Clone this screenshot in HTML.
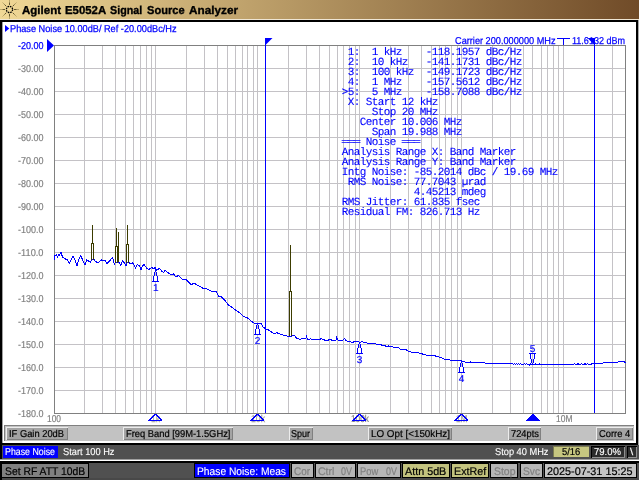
<!DOCTYPE html>
<html><head><meta charset="utf-8"><title>Agilent E5052A Signal Source Analyzer</title>
<style>
html,body{margin:0;padding:0;}
body{width:640px;height:480px;overflow:hidden;background:#fff;position:relative;font-family:"Liberation Sans",sans-serif;}
.b{position:absolute;}
.t{position:absolute;white-space:pre;transform-origin:0 0;text-rendering:geometricPrecision;-webkit-text-stroke:0.25px currentColor;}
</style></head><body>
<div class=b style='left:0px;top:0px;width:640px;height:19px;background:linear-gradient(to right,#f0d896 0%,#704b28 100%);'></div>
<div class=b style='left:0px;top:19px;width:640px;height:1px;background:#efe6d4;'></div>
<div class=b style='left:0px;top:20px;width:640px;height:2px;background:#000;'></div>
<div class=b style='left:0px;top:22px;width:2px;height:458px;background:#000;'></div>
<div class=b style='left:2px;top:22px;width:1px;height:421px;background:#a0a0a0;'></div>
<div class=b style='left:636px;top:22px;width:2px;height:423px;background:#000;'></div>
<div class=b style='left:638px;top:20px;width:1px;height:425px;background:#a8a8a8;'></div>
<svg width="640" height="480" viewBox="0 0 640 480" style="position:absolute;left:0;top:0"><rect x="54" y="45" width="572" height="369" fill="#fff"/>
<path d="M54 68.5H626M54 91.5H626M54 114.5H626M54 137.5H626M54 160.5H626M54 183.5H626M54 206.5H626M54 229.5H626M54 252.5H626M54 275.5H626M54 298.5H626M54 321.5H626M54 344.5H626M54 367.5H626M54 390.5H626M84.5 45V414M102.5 45V414M115.5 45V414M125.5 45V414M133.5 45V414M140.5 45V414M146.5 45V414M151.5 45V414M155.5 45V414M186.5 45V414M204.5 45V414M217.5 45V414M227.5 45V414M235.5 45V414M242.5 45V414M247.5 45V414M253.5 45V414M257.5 45V414M288.5 45V414M306.5 45V414M319.5 45V414M329.5 45V414M337.5 45V414M343.5 45V414M349.5 45V414M355.5 45V414M359.5 45V414M390.5 45V414M408.5 45V414M421.5 45V414M431.5 45V414M439.5 45V414M445.5 45V414M451.5 45V414M457.5 45V414M461.5 45V414M492.5 45V414M510.5 45V414M523.5 45V414M532.5 45V414M541.5 45V414M547.5 45V414M553.5 45V414M558.5 45V414M563.5 45V414M594.5 45V414M612.5 45V414" stroke="#c4c2c6" stroke-width="1" fill="none" shape-rendering="crispEdges"/>
<path d="M54.5 414V45.5H626" stroke="#808080" fill="none" shape-rendering="crispEdges"/>
<path d="M54 413.5H625.5V45" stroke="#808080" fill="none" shape-rendering="crispEdges"/>
<path d="M54.5 260.0 L54.5 256.0 L56.5 255.0 L57.5 257.0 L58.5 254.4 L59.5 255.0 L61.0 252.5 L62.5 257.0 L65.5 259.0 L67.5 260.0 L69.5 263.7 L70.5 261.0 L73.0 256.2 L75.0 260.0 L77.0 266.2 L78.5 260.0 L81.0 255.6 L82.5 260.0 L85.0 265.0 L86.5 260.0 L88.5 261.0 L90.5 262.0 L91.5 260.0 L93.5 259.0 L95.0 261.0 L96.5 262.0 L98.5 263.0 L100.0 261.0 L101.5 260.0 L103.5 261.0 L105.0 260.0 L107.0 263.7 L109.5 261.0 L112.5 257.5 L114.5 264.4 L115.5 262.0 L119.5 262.0 L120.5 266.0 L122.5 261.0 L124.5 263.0 L126.0 265.6 L126.5 263.0 L128.5 262.0 L130.5 263.7 L132.5 262.5 L135.5 268.0 L137.5 264.4 L139.5 266.0 L141.0 270.0 L142.5 266.0 L144.0 264.4 L146.5 268.0 L149.0 269.4 L151.5 267.5 L153.5 268.5 L155.5 267.5 L156.5 270.6 L158.5 269.0 L160.0 268.7 L161.5 271.0 L163.5 272.5 L165.0 270.4 L167.5 272.5 L169.5 273.5 L171.5 275.0 L173.5 274.0 L176.0 277.0 L178.5 275.4 L180.5 277.5 L182.5 279.4 L186.0 279.7 L188.5 282.0 L191.0 284.4 L194.5 283.5 L198.5 285.6 L201.0 287.0 L203.5 288.7 L207.0 289.0 L210.5 290.8 L213.5 291.5 L216.0 291.0 L218.5 296.0 L221.5 297.0 L225.5 301.2 L228.5 305.0 L231.5 307.0 L235.5 310.0 L239.5 312.7 L243.5 316.2 L247.5 318.0 L251.5 321.2 L254.5 323.4 L257.5 323.5 L261.5 323.5 L263.0 327.0 L265.5 328.7 L268.5 330.0 L271.5 332.0 L274.5 333.7 L276.5 332.5 L278.5 333.5 L280.5 334.2 L285.5 335.6 L288.5 336.3 L292.5 336.0 L294.0 335.0 L296.5 338.0 L299.5 339.4 L303.5 338.5 L306.0 338.5 L306.5 335.6 L307.5 340.0 L310.5 338.7 L312.5 340.0 L315.5 339.5 L318.5 339.7 L321.5 338.7 L324.5 340.0 L327.5 340.6 L329.5 339.4 L333.5 340.6 L336.0 340.0 L336.5 336.2 L337.5 340.0 L342.5 340.4 L344.5 338.5 L346.5 341.0 L349.5 341.5 L350.5 341.9 L352.5 342.5 L354.5 341.5 L358.5 341.5 L360.0 343.0 L361.5 341.5 L364.5 342.7 L366.5 342.5 L367.5 343.5 L374.5 343.5 L377.5 344.4 L381.5 345.0 L383.5 345.6 L386.5 346.2 L388.5 346.0 L392.5 346.9 L395.5 348.0 L398.5 347.5 L400.5 349.4 L404.5 349.7 L406.5 350.0 L408.5 351.5 L412.5 352.2 L416.5 353.0 L418.0 352.7 L421.5 353.7 L425.5 355.0 L430.5 355.5 L434.5 355.6 L436.5 356.5 L438.5 357.0 L440.5 357.2 L443.5 358.7 L445.5 359.4 L448.5 359.7 L451.5 360.4 L453.5 360.0 L459.5 360.2 L461.5 361.0 L462.5 361.9 L468.5 362.2 L469.5 362.8 L470.5 362.0 L473.5 362.8 L475.0 362.0 L476.5 362.9 L484.5 362.9 L486.0 363.7 L487.0 362.9 L488.0 363.7 L489.0 363.1 L500.5 363.5 L512.5 363.5 L513.5 364.5 L514.5 363.5 L515.5 364.5 L516.5 363.5 L517.5 364.5 L518.5 363.5 L519.5 364.5 L520.5 363.5 L521.5 364.4 L523.5 364.4 L524.5 363.5 L525.5 364.5 L526.5 363.5 L527.5 364.5 L529.5 365.3 L530.5 364.0 L531.5 364.4 L535.0 364.4 L535.5 363.5 L536.0 364.4 L539.0 364.4 L539.5 363.5 L540.0 364.4 L573.5 364.4 L574.5 363.4 L575.5 364.4 L577.5 364.4 L578.0 363.5 L578.5 364.4 L580.5 364.4 L581.5 363.5 L582.5 364.4 L584.5 364.4 L585.0 363.5 L585.5 364.4 L587.0 364.4 L587.5 363.5 L588.5 364.4 L591.0 364.4 L592.5 363.4 L602.5 363.4 L603.5 362.5 L617.5 362.5 L618.5 361.5 L623.5 361.5 L625.5 362.6" stroke="#0000ff" stroke-width="1" fill="none" stroke-linejoin="round" shape-rendering="crispEdges"/>
<path d="M91.5 260V242.5M93.5 260V242.5M92.5 243.5V225" stroke="#3c3c00" stroke-width="1" fill="none" shape-rendering="crispEdges"/>
<path d="M115.5 262.5V245.5M117.5 262.5V245.5M116.5 246.5V228" stroke="#3c3c00" stroke-width="1" fill="none" shape-rendering="crispEdges"/>
<path d="M126.5 263V243.7M128.5 263V243.7M127.5 244.7V224.5" stroke="#3c3c00" stroke-width="1" fill="none" shape-rendering="crispEdges"/>
<path d="M289.5 336.3V290.5M291.5 336.3V290.5M290.5 291.5V245" stroke="#3c3c00" stroke-width="1" fill="none" shape-rendering="crispEdges"/>
<path d="M118.5 232V262M117.5 246V262" stroke="#3c3c00" stroke-width="1" fill="none" shape-rendering="crispEdges"/>
<path d="M265.5 38V413" stroke="#0000ff" stroke-width="1" shape-rendering="crispEdges"/>
<path d="M265 38H272.5L265 45.5Z" fill="#0000ff"/>
<path d="M594.5 38V413" stroke="#0000ff" stroke-width="1" shape-rendering="crispEdges"/>
<path d="M595 38H587.5L595 45.5Z" fill="#0000ff"/>
<path d="M47 39L54 45.5L47 52Z" fill="#0000ff"/>
<path d="M5 25L9.3 28.5L5 32Z" fill="#0000ff"/>
<path d="M154 276H157V281H154Z" fill="#fff"/>
<path d="M155.5 269V272M154.5 272V276M156.5 272V276M153.5 276V281M157.5 276V281M152 281.5H159" stroke="#0000ff" stroke-width="1" fill="none" shape-rendering="crispEdges"/>
<path d="M256 329H259V334H256Z" fill="#fff"/>
<path d="M257.5 323V325M256.5 325V329M258.5 325V329M255.5 329V334M259.5 329V334M254 334.5H261" stroke="#0000ff" stroke-width="1" fill="none" shape-rendering="crispEdges"/>
<path d="M358 348H361V353H358Z" fill="#fff"/>
<path d="M359.5 342V344M358.5 344V348M360.5 344V348M357.5 348V353M361.5 348V353M356 353.5H363" stroke="#0000ff" stroke-width="1" fill="none" shape-rendering="crispEdges"/>
<path d="M460 367H463V372H460Z" fill="#fff"/>
<path d="M461.5 361V363M460.5 363V367M462.5 363V367M459.5 367V372M463.5 367V372M458 372.5H465" stroke="#0000ff" stroke-width="1" fill="none" shape-rendering="crispEdges"/>
<path d="M532.5 365V363M531.5 363V359M533.5 363V359M530.5 359V354M534.5 359V354M529 353.5H536" stroke="#0000ff" stroke-width="1" fill="none" shape-rendering="crispEdges"/>
<path d="M557 38.5H570M563.5 38V45" stroke="#0000ff" stroke-width="1" fill="none" shape-rendering="crispEdges"/></svg>
<div class=b style='left:639px;top:0px;width:1px;height:480px;background:#fff;'></div>
<div class=b style='left:4px;top:425px;width:630px;height:16px;background:#c2c2c2;box-shadow:inset 1px 1px 0 #808080;'></div>
<div class=b style='left:0px;top:443px;width:638px;height:2px;background:#000;'></div>
<div class=b style='left:2px;top:445px;width:637px;height:15px;background:#505050;'></div>
<div class=b style='left:0px;top:459px;width:639px;height:1px;background:#a0a0a0;'></div>
<div class=b style='left:0px;top:460px;width:640px;height:1px;background:#fff;'></div>
<div class=b style='left:0px;top:461px;width:639px;height:2px;background:#000;'></div>
<div class=b style='left:2px;top:463px;width:637px;height:17px;background:#505050;'></div>
<div class=b style='left:0px;top:463px;width:2px;height:17px;background:#000;'></div>
<div class=b style='left:2px;top:478px;width:637px;height:2px;background:#484848;'></div>
<div class=b style='left:6px;top:427px;width:62px;height:13px;background:#a4a4a4;box-shadow:inset 1px 1px 0 #ececec, inset -1px -1px 0 #808080;'></div>
<div class=b style='left:123px;top:427px;width:110px;height:13px;background:#a4a4a4;box-shadow:inset 1px 1px 0 #ececec, inset -1px -1px 0 #808080;'></div>
<div class=b style='left:289px;top:427px;width:24px;height:13px;background:#a4a4a4;box-shadow:inset 1px 1px 0 #ececec, inset -1px -1px 0 #808080;'></div>
<div class=b style='left:368px;top:427px;width:84px;height:13px;background:#a4a4a4;box-shadow:inset 1px 1px 0 #ececec, inset -1px -1px 0 #808080;'></div>
<div class=b style='left:508px;top:427px;width:33px;height:13px;background:#a4a4a4;box-shadow:inset 1px 1px 0 #ececec, inset -1px -1px 0 #808080;'></div>
<div class=b style='left:596px;top:427px;width:37px;height:13px;background:#a4a4a4;box-shadow:inset 1px 1px 0 #ececec, inset -1px -1px 0 #808080;'></div>
<div class=b style='left:3px;top:446px;width:55px;height:12px;background:#0000ff;'></div>
<div class=b style='left:553px;top:446px;width:36px;height:11px;background:#c6c680;box-shadow:inset 1px 1px 0 #7c7c50;'></div>
<div class=b style='left:591px;top:446px;width:34px;height:12px;background:#2c2c2c;box-shadow:inset 1px 1px 0 #000, inset -1px -1px 0 #909090;'></div>
<div class=b style='left:627px;top:446px;width:10px;height:12px;background:#2c2c2c;box-shadow:inset 1px 1px 0 #000, inset -1px -1px 0 #909090;'></div>
<div class=b style='left:2px;top:464px;width:86px;height:13px;background:#808080;box-shadow:0 0 0 1px #000;'></div>
<div class=b style='left:195px;top:464px;width:94px;height:13px;background:#0000ff;box-shadow:0 0 0 1px #000;'></div>
<div class=b style='left:292px;top:464px;width:21px;height:13px;background:#b6b6b6;box-shadow:0 0 0 1px #000;'></div>
<div class=b style='left:316px;top:464px;width:39px;height:13px;background:#b6b6b6;box-shadow:0 0 0 1px #000;'></div>
<div class=b style='left:358px;top:464px;width:42px;height:13px;background:#b6b6b6;box-shadow:0 0 0 1px #000;'></div>
<div class=b style='left:403px;top:464px;width:46px;height:13px;background:#c2c27e;box-shadow:0 0 0 1px #000;'></div>
<div class=b style='left:452px;top:464px;width:36px;height:13px;background:#c2c27e;box-shadow:0 0 0 1px #000;'></div>
<div class=b style='left:491px;top:464px;width:26px;height:13px;background:#b6b6b6;box-shadow:0 0 0 1px #000;'></div>
<div class=b style='left:521px;top:464px;width:21px;height:13px;background:#b6b6b6;box-shadow:0 0 0 1px #000;'></div>
<div class=b style='left:545px;top:464px;width:91px;height:13px;background:#c4c4c4;box-shadow:0 0 0 1px #000;'></div>
<svg width="20" height="19" viewBox="0 0 20 19" style="position:absolute;left:0;top:0">
<g stroke="#3a3010" stroke-width="1" fill="none" stroke-opacity=".75">
<path d="M9.5 5V2.5M9.5 14V16.5M5 9.5H2.5M14 9.5H16.5M6.3 6.3L4.5 4.5M12.7 12.7L14.5 14.5M12.7 6.3L14.5 4.5M6.3 12.7L4.5 14.5"/></g>
<g stroke="#5a4a20" stroke-width="1" fill="none" stroke-opacity=".35">
<path d="M9.5 2.5V0M9.5 16.5V19M2.5 9.5H0M16.5 9.5H19M4.5 4.5L2.5 2.5M14.5 14.5L16.5 16.5M14.5 4.5L16.5 2.5M4.5 14.5L2.5 16.5"/></g>
<circle cx="9.5" cy="9.5" r="3.1" stroke="#000" stroke-width="1.3" fill="none" stroke-dasharray="1.6 0.83"/></svg>
<div style="position:absolute;left:0;top:0;width:640px;height:480px;will-change:transform">
<span class=t style='left:22.00px;top:5.09px;font-size:11.5px;line-height:13.213px;color:#000;font-weight:bold;font-family:"Liberation Sans",sans-serif;transform:scaleX(1.0004);-webkit-text-stroke:0.35px currentColor;'>Agilent</span>
<span class=t style='left:65.00px;top:5.09px;font-size:11.5px;line-height:13.213px;color:#000;font-weight:bold;font-family:"Liberation Sans",sans-serif;transform:scaleX(0.9913);-webkit-text-stroke:0.35px currentColor;'>E5052A</span>
<span class=t style='left:110.40px;top:5.09px;font-size:11.5px;line-height:13.213px;color:#000;font-weight:bold;font-family:"Liberation Sans",sans-serif;transform:scaleX(0.9329);-webkit-text-stroke:0.35px currentColor;'>Signal</span>
<span class=t style='left:147.00px;top:5.09px;font-size:11.5px;line-height:13.213px;color:#000;font-weight:bold;font-family:"Liberation Sans",sans-serif;transform:scaleX(0.9641);-webkit-text-stroke:0.35px currentColor;'>Source</span>
<span class=t style='left:188.60px;top:5.09px;font-size:11.5px;line-height:13.213px;color:#000;font-weight:bold;font-family:"Liberation Sans",sans-serif;transform:scaleX(1.0222);-webkit-text-stroke:0.35px currentColor;'>Analyzer</span>
<span class=t style='left:9.60px;top:23.85px;font-size:10px;line-height:11.490px;color:#0000ff;font-weight:normal;font-family:"Liberation Sans",sans-serif;transform:scaleX(0.9188);'>Phase Noise 10.00dB/ Ref -20.00dBc/Hz</span>
<span class=t style='left:17.80px;top:40.85px;font-size:10px;line-height:11.490px;color:#0000ff;font-weight:normal;font-family:"Liberation Sans",sans-serif;transform:scaleX(0.8992);'>-20.00</span>
<span class=t style='left:17.80px;top:63.85px;font-size:10px;line-height:11.490px;color:#808080;font-weight:normal;font-family:"Liberation Sans",sans-serif;transform:scaleX(0.8992);-webkit-text-stroke:0.18px currentColor;'>-30.00</span>
<span class=t style='left:17.80px;top:86.85px;font-size:10px;line-height:11.490px;color:#808080;font-weight:normal;font-family:"Liberation Sans",sans-serif;transform:scaleX(0.8992);-webkit-text-stroke:0.18px currentColor;'>-40.00</span>
<span class=t style='left:17.80px;top:109.85px;font-size:10px;line-height:11.490px;color:#808080;font-weight:normal;font-family:"Liberation Sans",sans-serif;transform:scaleX(0.8992);-webkit-text-stroke:0.18px currentColor;'>-50.00</span>
<span class=t style='left:17.80px;top:132.85px;font-size:10px;line-height:11.490px;color:#808080;font-weight:normal;font-family:"Liberation Sans",sans-serif;transform:scaleX(0.8992);-webkit-text-stroke:0.18px currentColor;'>-60.00</span>
<span class=t style='left:17.80px;top:155.85px;font-size:10px;line-height:11.490px;color:#808080;font-weight:normal;font-family:"Liberation Sans",sans-serif;transform:scaleX(0.8992);-webkit-text-stroke:0.18px currentColor;'>-70.00</span>
<span class=t style='left:17.80px;top:178.85px;font-size:10px;line-height:11.490px;color:#808080;font-weight:normal;font-family:"Liberation Sans",sans-serif;transform:scaleX(0.8992);-webkit-text-stroke:0.18px currentColor;'>-80.00</span>
<span class=t style='left:17.80px;top:201.85px;font-size:10px;line-height:11.490px;color:#808080;font-weight:normal;font-family:"Liberation Sans",sans-serif;transform:scaleX(0.8992);-webkit-text-stroke:0.18px currentColor;'>-90.00</span>
<span class=t style='left:17.80px;top:224.85px;font-size:10px;line-height:11.490px;color:#808080;font-weight:normal;font-family:"Liberation Sans",sans-serif;transform:scaleX(0.8992);-webkit-text-stroke:0.18px currentColor;'>-100.0</span>
<span class=t style='left:17.80px;top:247.85px;font-size:10px;line-height:11.490px;color:#808080;font-weight:normal;font-family:"Liberation Sans",sans-serif;transform:scaleX(0.9231);-webkit-text-stroke:0.18px currentColor;'>-110.0</span>
<span class=t style='left:17.80px;top:270.85px;font-size:10px;line-height:11.490px;color:#808080;font-weight:normal;font-family:"Liberation Sans",sans-serif;transform:scaleX(0.8992);-webkit-text-stroke:0.18px currentColor;'>-120.0</span>
<span class=t style='left:17.80px;top:293.85px;font-size:10px;line-height:11.490px;color:#808080;font-weight:normal;font-family:"Liberation Sans",sans-serif;transform:scaleX(0.8992);-webkit-text-stroke:0.18px currentColor;'>-130.0</span>
<span class=t style='left:17.80px;top:316.85px;font-size:10px;line-height:11.490px;color:#808080;font-weight:normal;font-family:"Liberation Sans",sans-serif;transform:scaleX(0.8992);-webkit-text-stroke:0.18px currentColor;'>-140.0</span>
<span class=t style='left:17.80px;top:339.85px;font-size:10px;line-height:11.490px;color:#808080;font-weight:normal;font-family:"Liberation Sans",sans-serif;transform:scaleX(0.8992);-webkit-text-stroke:0.18px currentColor;'>-150.0</span>
<span class=t style='left:17.80px;top:362.85px;font-size:10px;line-height:11.490px;color:#808080;font-weight:normal;font-family:"Liberation Sans",sans-serif;transform:scaleX(0.8992);-webkit-text-stroke:0.18px currentColor;'>-160.0</span>
<span class=t style='left:17.80px;top:385.85px;font-size:10px;line-height:11.490px;color:#808080;font-weight:normal;font-family:"Liberation Sans",sans-serif;transform:scaleX(0.8992);-webkit-text-stroke:0.18px currentColor;'>-170.0</span>
<span class=t style='left:17.80px;top:408.85px;font-size:10px;line-height:11.490px;color:#808080;font-weight:normal;font-family:"Liberation Sans",sans-serif;transform:scaleX(0.8992);-webkit-text-stroke:0.18px currentColor;'>-180.0</span>
<span class=t style='left:454.50px;top:35.85px;font-size:10px;line-height:11.490px;color:#0000ff;font-weight:normal;font-family:"Liberation Sans",sans-serif;transform:scaleX(0.9178);'>Carrier 200.000000 MHz</span>
<span class=t style='left:572.00px;top:35.85px;font-size:10px;line-height:11.490px;color:#0000ff;font-weight:normal;font-family:"Liberation Sans",sans-serif;transform:scaleX(0.9021);'>11.6132 dBm</span>
<span class=t style='left:47.00px;top:413.85px;font-size:10px;line-height:11.490px;color:#808080;font-weight:normal;font-family:"Liberation Sans",sans-serif;transform:scaleX(0.8390);-webkit-text-stroke:0.2px currentColor;'>100</span>
<span class=t style='left:151.00px;top:413.85px;font-size:10px;line-height:11.490px;color:#b0b0a0;font-weight:normal;font-family:"Liberation Sans",sans-serif;transform:scaleX(0.8521);'>1k</span>
<span class=t style='left:250.50px;top:413.85px;font-size:10px;line-height:11.490px;color:#a0a0a0;font-weight:normal;font-family:"Liberation Sans",sans-serif;transform:scaleX(0.8682);'>10k</span>
<span class=t style='left:351.00px;top:413.85px;font-size:10px;line-height:11.490px;color:#808080;font-weight:normal;font-family:"Liberation Sans",sans-serif;transform:scaleX(0.8300);-webkit-text-stroke:0.2px currentColor;'>100k</span>
<span class=t style='left:455.75px;top:413.85px;font-size:10px;line-height:11.490px;color:#a0a0a0;font-weight:normal;font-family:"Liberation Sans",sans-serif;transform:scaleX(0.8270);'>1M</span>
<span class=t style='left:555.55px;top:413.85px;font-size:10px;line-height:11.490px;color:#808080;font-weight:normal;font-family:"Liberation Sans",sans-serif;transform:scaleX(0.8482);-webkit-text-stroke:0.2px currentColor;'>10M</span>
<span class=t style='left:152.92px;top:282.85px;font-size:10px;line-height:11.490px;color:#0000ff;font-weight:normal;font-family:"Liberation Sans",sans-serif;transform:scaleX(1.0000);-webkit-text-stroke:0.2px currentColor;'>1</span>
<span class=t style='left:254.72px;top:335.85px;font-size:10px;line-height:11.490px;color:#0000ff;font-weight:normal;font-family:"Liberation Sans",sans-serif;transform:scaleX(1.0000);-webkit-text-stroke:0.2px currentColor;'>2</span>
<span class=t style='left:356.72px;top:354.85px;font-size:10px;line-height:11.490px;color:#0000ff;font-weight:normal;font-family:"Liberation Sans",sans-serif;transform:scaleX(1.0000);-webkit-text-stroke:0.2px currentColor;'>3</span>
<span class=t style='left:458.72px;top:373.85px;font-size:10px;line-height:11.490px;color:#0000ff;font-weight:normal;font-family:"Liberation Sans",sans-serif;transform:scaleX(1.0000);-webkit-text-stroke:0.2px currentColor;'>4</span>
<span class=t style='left:529.72px;top:343.85px;font-size:10px;line-height:11.490px;color:#0000ff;font-weight:normal;font-family:"Liberation Sans",sans-serif;transform:scaleX(1.0000);-webkit-text-stroke:0.2px currentColor;'>5</span>
<span class=t style='left:347.80px;top:47.14px;font-size:11px;line-height:12.461px;color:#0000ff;font-weight:normal;font-family:"Liberation Mono",monospace;transform:scaleX(1.0000);letter-spacing:-0.6px;-webkit-text-stroke:0.1px currentColor;'>1:  1 kHz    -118.1957 dBc/Hz</span>
<span class=t style='left:347.80px;top:57.14px;font-size:11px;line-height:12.461px;color:#0000ff;font-weight:normal;font-family:"Liberation Mono",monospace;transform:scaleX(1.0000);letter-spacing:-0.6px;-webkit-text-stroke:0.1px currentColor;'>2:  10 kHz   -141.1731 dBc/Hz</span>
<span class=t style='left:347.80px;top:67.14px;font-size:11px;line-height:12.461px;color:#0000ff;font-weight:normal;font-family:"Liberation Mono",monospace;transform:scaleX(1.0000);letter-spacing:-0.6px;-webkit-text-stroke:0.1px currentColor;'>3:  100 kHz  -149.1723 dBc/Hz</span>
<span class=t style='left:347.80px;top:77.14px;font-size:11px;line-height:12.461px;color:#0000ff;font-weight:normal;font-family:"Liberation Mono",monospace;transform:scaleX(1.0000);letter-spacing:-0.6px;-webkit-text-stroke:0.1px currentColor;'>4:  1 MHz    -157.5612 dBc/Hz</span>
<span class=t style='left:347.80px;top:87.14px;font-size:11px;line-height:12.461px;color:#0000ff;font-weight:normal;font-family:"Liberation Mono",monospace;transform:scaleX(1.0000);letter-spacing:-0.6px;-webkit-text-stroke:0.1px currentColor;'>5:  5 MHz    -158.7088 dBc/Hz</span>
<span class=t style='left:341.80px;top:87.14px;font-size:11px;line-height:12.461px;color:#0000ff;font-weight:normal;font-family:"Liberation Mono",monospace;transform:scaleX(1.0000);letter-spacing:-0.6px;-webkit-text-stroke:0.1px currentColor;'>&gt;</span>
<span class=t style='left:347.80px;top:97.14px;font-size:11px;line-height:12.461px;color:#0000ff;font-weight:normal;font-family:"Liberation Mono",monospace;transform:scaleX(1.0000);letter-spacing:-0.6px;-webkit-text-stroke:0.1px currentColor;'>X: Start 12 kHz</span>
<span class=t style='left:371.80px;top:107.14px;font-size:11px;line-height:12.461px;color:#0000ff;font-weight:normal;font-family:"Liberation Mono",monospace;transform:scaleX(1.0000);letter-spacing:-0.6px;-webkit-text-stroke:0.1px currentColor;'>Stop 20 MHz</span>
<span class=t style='left:359.80px;top:117.14px;font-size:11px;line-height:12.461px;color:#0000ff;font-weight:normal;font-family:"Liberation Mono",monospace;transform:scaleX(1.0000);letter-spacing:-0.6px;-webkit-text-stroke:0.1px currentColor;'>Center 10.006 MHz</span>
<span class=t style='left:371.80px;top:127.14px;font-size:11px;line-height:12.461px;color:#0000ff;font-weight:normal;font-family:"Liberation Mono",monospace;transform:scaleX(1.0000);letter-spacing:-0.6px;-webkit-text-stroke:0.1px currentColor;'>Span 19.988 MHz</span>
<span class=t style='left:341.80px;top:137.14px;font-size:11px;line-height:12.461px;color:#0000ff;font-weight:normal;font-family:"Liberation Mono",monospace;transform:scaleX(1.0000);letter-spacing:-0.6px;-webkit-text-stroke:0.1px currentColor;'>═══ Noise ═══</span>
<span class=t style='left:341.80px;top:147.14px;font-size:11px;line-height:12.461px;color:#0000ff;font-weight:normal;font-family:"Liberation Mono",monospace;transform:scaleX(1.0000);letter-spacing:-0.6px;-webkit-text-stroke:0.1px currentColor;'>Analysis Range X: Band Marker</span>
<span class=t style='left:341.80px;top:157.14px;font-size:11px;line-height:12.461px;color:#0000ff;font-weight:normal;font-family:"Liberation Mono",monospace;transform:scaleX(1.0000);letter-spacing:-0.6px;-webkit-text-stroke:0.1px currentColor;'>Analysis Range Y: Band Marker</span>
<span class=t style='left:341.80px;top:167.14px;font-size:11px;line-height:12.461px;color:#0000ff;font-weight:normal;font-family:"Liberation Mono",monospace;transform:scaleX(1.0000);letter-spacing:-0.6px;-webkit-text-stroke:0.1px currentColor;'>Intg Noise: -85.2014 dBc / 19.69 MHz</span>
<span class=t style='left:347.80px;top:177.14px;font-size:11px;line-height:12.461px;color:#0000ff;font-weight:normal;font-family:"Liberation Mono",monospace;transform:scaleX(1.0000);letter-spacing:-0.6px;-webkit-text-stroke:0.1px currentColor;'>RMS Noise: 77.7043 µrad</span>
<span class=t style='left:413.80px;top:187.14px;font-size:11px;line-height:12.461px;color:#0000ff;font-weight:normal;font-family:"Liberation Mono",monospace;transform:scaleX(1.0000);letter-spacing:-0.6px;-webkit-text-stroke:0.1px currentColor;'>4.45213 mdeg</span>
<span class=t style='left:341.80px;top:197.14px;font-size:11px;line-height:12.461px;color:#0000ff;font-weight:normal;font-family:"Liberation Mono",monospace;transform:scaleX(1.0000);letter-spacing:-0.6px;-webkit-text-stroke:0.1px currentColor;'>RMS Jitter: 61.835 fsec</span>
<span class=t style='left:341.80px;top:207.14px;font-size:11px;line-height:12.461px;color:#0000ff;font-weight:normal;font-family:"Liberation Mono",monospace;transform:scaleX(1.0000);letter-spacing:-0.6px;-webkit-text-stroke:0.1px currentColor;'>Residual FM: 826.713 Hz</span>
<span class=t style='left:9.00px;top:428.85px;font-size:10px;line-height:11.490px;color:#000;font-weight:normal;font-family:"Liberation Sans",sans-serif;transform:scaleX(0.9334);-webkit-text-stroke:0.2px currentColor;'>IF Gain 20dB</span>
<span class=t style='left:125.60px;top:428.85px;font-size:10px;line-height:11.490px;color:#000;font-weight:normal;font-family:"Liberation Sans",sans-serif;transform:scaleX(0.9345);-webkit-text-stroke:0.2px currentColor;'>Freq Band [99M-1.5GHz]</span>
<span class=t style='left:291.00px;top:428.85px;font-size:10px;line-height:11.490px;color:#000;font-weight:normal;font-family:"Liberation Sans",sans-serif;transform:scaleX(0.8994);-webkit-text-stroke:0.2px currentColor;'>Spur</span>
<span class=t style='left:370.50px;top:428.85px;font-size:10px;line-height:11.490px;color:#000;font-weight:normal;font-family:"Liberation Sans",sans-serif;transform:scaleX(0.9835);-webkit-text-stroke:0.2px currentColor;'>LO Opt [&lt;150kHz]</span>
<span class=t style='left:510.50px;top:428.85px;font-size:10px;line-height:11.490px;color:#000;font-weight:normal;font-family:"Liberation Sans",sans-serif;transform:scaleX(0.9324);-webkit-text-stroke:0.2px currentColor;'>724pts</span>
<span class=t style='left:599.00px;top:428.85px;font-size:10px;line-height:11.490px;color:#000;font-weight:normal;font-family:"Liberation Sans",sans-serif;transform:scaleX(0.9383);-webkit-text-stroke:0.2px currentColor;'>Corre 4</span>
<span class=t style='left:5.00px;top:447.05px;font-size:10px;line-height:11.490px;color:#fff;font-weight:normal;font-family:"Liberation Sans",sans-serif;transform:scaleX(0.8818);-webkit-text-stroke:0.12px currentColor;'>Phase Noise</span>
<span class=t style='left:62.50px;top:447.05px;font-size:10px;line-height:11.490px;color:#fff;font-weight:normal;font-family:"Liberation Sans",sans-serif;transform:scaleX(0.9264);-webkit-text-stroke:0.12px currentColor;'>Start 100 Hz</span>
<span class=t style='left:494.50px;top:447.05px;font-size:10px;line-height:11.490px;color:#fff;font-weight:normal;font-family:"Liberation Sans",sans-serif;transform:scaleX(0.9254);-webkit-text-stroke:0.12px currentColor;'>Stop 40 MHz</span>
<span class=t style='left:561.50px;top:447.05px;font-size:10px;line-height:11.490px;color:#000;font-weight:normal;font-family:"Liberation Sans",sans-serif;transform:scaleX(0.9400);-webkit-text-stroke:0.2px currentColor;'>5/16</span>
<span class=t style='left:593.70px;top:447.05px;font-size:10px;line-height:11.490px;color:#fff;font-weight:normal;font-family:"Liberation Sans",sans-serif;transform:scaleX(0.9521);-webkit-text-stroke:0.12px currentColor;'>79.0%</span>
<span class=t style='left:630.00px;top:447.05px;font-size:10px;line-height:11.490px;color:#fff;font-weight:normal;font-family:"Liberation Sans",sans-serif;transform:scaleX(1.1506);-webkit-text-stroke:0.12px currentColor;'>\</span>
<span class=t style='left:5.00px;top:466.14px;font-size:11px;line-height:12.639px;color:#000;font-weight:normal;font-family:"Liberation Sans",sans-serif;transform:scaleX(0.9415);-webkit-text-stroke:0.2px currentColor;'>Set RF ATT 10dB</span>
<span class=t style='left:197.00px;top:466.14px;font-size:11px;line-height:12.639px;color:#fff;font-weight:normal;font-family:"Liberation Sans",sans-serif;transform:scaleX(0.9330);-webkit-text-stroke:0.12px currentColor;'>Phase Noise: Meas</span>
<span class=t style='left:294.00px;top:466.14px;font-size:11px;line-height:12.639px;color:#808080;font-weight:normal;font-family:"Liberation Sans",sans-serif;transform:scaleX(0.9022);-webkit-text-stroke:0.2px currentColor;'>Cor</span>
<span class=t style='left:318.00px;top:466.14px;font-size:11px;line-height:12.639px;color:#808080;font-weight:normal;font-family:"Liberation Sans",sans-serif;transform:scaleX(0.9585);-webkit-text-stroke:0.2px currentColor;'>Ctrl</span>
<span class=t style='left:341.00px;top:466.14px;font-size:11px;line-height:12.639px;color:#808080;font-weight:normal;font-family:"Liberation Sans",sans-serif;transform:scaleX(0.8167);-webkit-text-stroke:0.2px currentColor;'>0V</span>
<span class=t style='left:360.30px;top:466.14px;font-size:11px;line-height:12.639px;color:#808080;font-weight:normal;font-family:"Liberation Sans",sans-serif;transform:scaleX(0.8502);-webkit-text-stroke:0.2px currentColor;'>Pow</span>
<span class=t style='left:386.00px;top:466.14px;font-size:11px;line-height:12.639px;color:#808080;font-weight:normal;font-family:"Liberation Sans",sans-serif;transform:scaleX(0.8167);-webkit-text-stroke:0.2px currentColor;'>0V</span>
<span class=t style='left:405.00px;top:466.14px;font-size:11px;line-height:12.639px;color:#000;font-weight:normal;font-family:"Liberation Sans",sans-serif;transform:scaleX(0.9786);-webkit-text-stroke:0.2px currentColor;'>Attn 5dB</span>
<span class=t style='left:453.80px;top:466.14px;font-size:11px;line-height:12.639px;color:#000;font-weight:normal;font-family:"Liberation Sans",sans-serif;transform:scaleX(0.9753);-webkit-text-stroke:0.2px currentColor;'>ExtRef</span>
<span class=t style='left:493.50px;top:466.14px;font-size:11px;line-height:12.639px;color:#808080;font-weight:normal;font-family:"Liberation Sans",sans-serif;transform:scaleX(0.9496);-webkit-text-stroke:0.2px currentColor;'>Stop</span>
<span class=t style='left:523.00px;top:466.14px;font-size:11px;line-height:12.639px;color:#808080;font-weight:normal;font-family:"Liberation Sans",sans-serif;transform:scaleX(0.9267);-webkit-text-stroke:0.2px currentColor;'>Svc</span>
<span class=t style='left:547.00px;top:466.14px;font-size:11px;line-height:12.639px;color:#000;font-weight:normal;font-family:"Liberation Sans",sans-serif;transform:scaleX(0.9843);-webkit-text-stroke:0.2px currentColor;'>2025-07-31 15:25</span>
</div>
<svg width="640" height="480" viewBox="0 0 640 480" style="position:absolute;left:0;top:0"><path d="M155.5 414L149.5 420M155.5 414L161.5 420M148 420.5H162" stroke="#0000ff" stroke-width="1" fill="none" shape-rendering="crispEdges"/>
<path d="M257.5 414L251.5 420M257.5 414L263.5 420M250 420.5H264" stroke="#0000ff" stroke-width="1" fill="none" shape-rendering="crispEdges"/>
<path d="M359.5 414L353.5 420M359.5 414L365.5 420M352 420.5H366" stroke="#0000ff" stroke-width="1" fill="none" shape-rendering="crispEdges"/>
<path d="M461.5 414L455.5 420M461.5 414L467.5 420M454 420.5H468" stroke="#0000ff" stroke-width="1" fill="none" shape-rendering="crispEdges"/>
<path d="M533 413.5L525.5 421H540.5Z" fill="#0000ff" shape-rendering="crispEdges"/></svg>
</body></html>
